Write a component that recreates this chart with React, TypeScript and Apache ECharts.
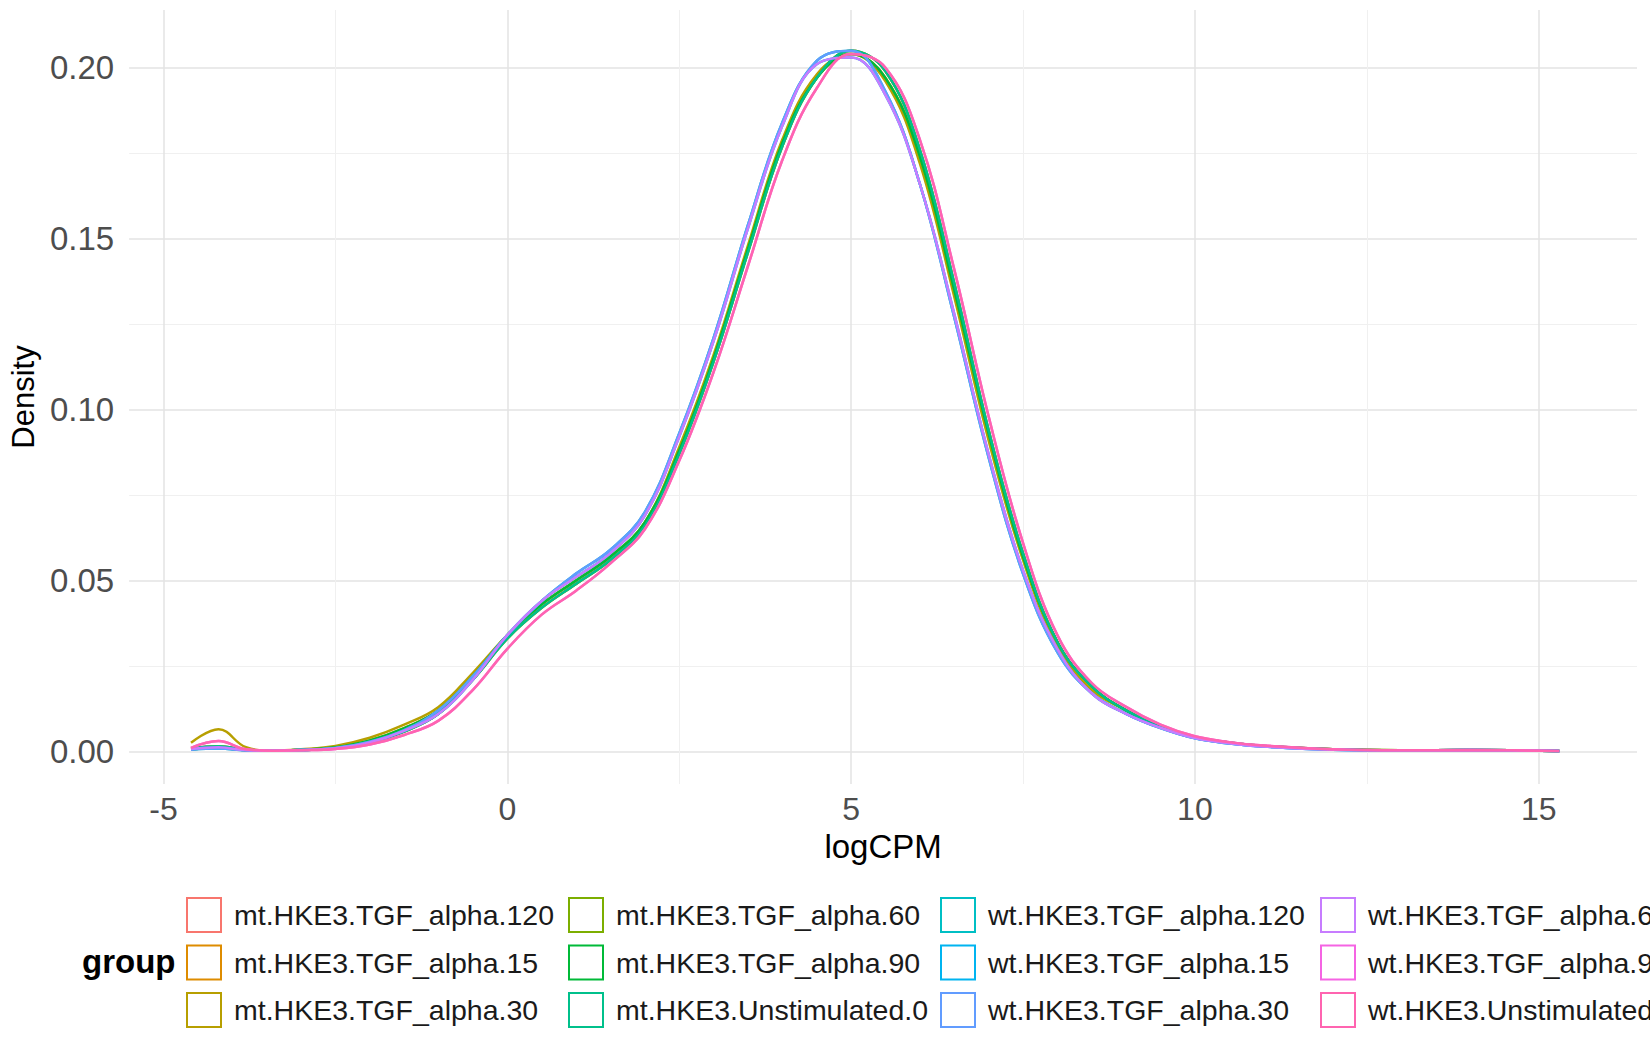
import React, { useEffect, useRef } from 'react';
import * as echarts from 'echarts';

const xs = [-4.6, -4.2, -3.8, -3.4, -3, -2.5, -2, -1.5, -1, -0.5, 0, 0.5, 1, 1.5, 2, 2.5, 3, 3.5, 4, 4.5, 5, 5.5, 6, 6.5, 7, 7.5, 8, 8.5, 9, 9.5, 10, 10.5, 11, 12, 13, 14, 15.3];

const names = [
  'mt.HKE3.TGF_alpha.120', 'mt.HKE3.TGF_alpha.15', 'mt.HKE3.TGF_alpha.30',
  'mt.HKE3.TGF_alpha.60', 'mt.HKE3.TGF_alpha.90', 'mt.HKE3.Unstimulated.0',
  'wt.HKE3.TGF_alpha.120', 'wt.HKE3.TGF_alpha.15', 'wt.HKE3.TGF_alpha.30',
  'wt.HKE3.TGF_alpha.60', 'wt.HKE3.TGF_alpha.90', 'wt.HKE3.Unstimulated.0',
];
const colors = ['#F8766D', '#DE8C00', '#B79F00', '#7CAE00', '#00BA38', '#00C08B', '#00BFC4', '#00B4F0', '#619CFF', '#C77CFF', '#F564E3', '#FF64B0'];

// density curves
const mtA = [0.0008, 0.0015, 0.0004, 0.0002, 0.0004, 0.0009, 0.0025, 0.0058, 0.011, 0.021, 0.033, 0.042, 0.049, 0.056, 0.066, 0.087, 0.114, 0.146, 0.177, 0.197, 0.205, 0.199, 0.176, 0.137, 0.094, 0.058, 0.032, 0.019, 0.012, 0.0075, 0.0042, 0.0026, 0.0016, 0.0006, 0.0003, 0.0004, 0.0001];
const mtB = [0.0006, 0.0010, 0.0003, 0.0002, 0.0005, 0.0012, 0.0032, 0.0068, 0.012, 0.022, 0.034, 0.043, 0.050, 0.057, 0.067, 0.088, 0.115, 0.147, 0.178, 0.197, 0.204, 0.197, 0.174, 0.135, 0.093, 0.057, 0.032, 0.019, 0.012, 0.0074, 0.0041, 0.0025, 0.0015, 0.0006, 0.0003, 0.0004, 0.0001];
const mt30 = [0.0025, 0.0065, 0.0012, 0.0002, 0.0006, 0.0016, 0.0040, 0.0078, 0.013, 0.023, 0.034, 0.043, 0.050, 0.057, 0.067, 0.089, 0.116, 0.148, 0.179, 0.198, 0.204, 0.196, 0.172, 0.133, 0.091, 0.056, 0.031, 0.018, 0.012, 0.0073, 0.0040, 0.0025, 0.0015, 0.0006, 0.0003, 0.0004, 0.0001];
const wtA = [0.0005, 0.0008, 0.0003, 0.0002, 0.0004, 0.0010, 0.0028, 0.0062, 0.012, 0.022, 0.034, 0.044, 0.052, 0.059, 0.070, 0.093, 0.121, 0.154, 0.184, 0.202, 0.205, 0.193, 0.166, 0.127, 0.086, 0.052, 0.029, 0.017, 0.011, 0.0068, 0.0038, 0.0023, 0.0014, 0.0005, 0.0003, 0.0004, 0.0001];
const wtB = [0.0007, 0.0012, 0.0003, 0.0002, 0.0004, 0.0009, 0.0026, 0.0060, 0.011, 0.021, 0.034, 0.044, 0.051, 0.058, 0.069, 0.092, 0.120, 0.153, 0.183, 0.201, 0.203, 0.192, 0.166, 0.128, 0.087, 0.053, 0.030, 0.017, 0.011, 0.0069, 0.0039, 0.0024, 0.0014, 0.0005, 0.0003, 0.0004, 0.0001];
const wtU = [0.0010, 0.0030, 0.0006, 0.0002, 0.0003, 0.0007, 0.0020, 0.0048, 0.009, 0.018, 0.030, 0.040, 0.047, 0.055, 0.065, 0.085, 0.111, 0.142, 0.173, 0.194, 0.204, 0.200, 0.179, 0.141, 0.098, 0.061, 0.034, 0.020, 0.013, 0.0078, 0.0044, 0.0027, 0.0017, 0.0006, 0.0003, 0.0004, 0.0001];
const seriesData = [mtA, mtB, mt30, mtA, mtB, mtA, wtA, wtB, wtA, wtB, wtU, wtU];

const xTicks = [-5, 0, 5, 10, 15];
const xMinor = [-2.5, 2.5, 7.5, 12.5];
const yTicks = [0, 0.05, 0.1, 0.15, 0.2];
const yMinor = [0.025, 0.075, 0.125, 0.175];

const ff = { fontFamily: 'Liberation Sans, Arial, sans-serif' };

export default function App() {
  const ref = useRef<HTMLDivElement>(null);
  useEffect(() => {
    if (!ref.current) return;
    const chart = echarts.init(ref.current, undefined, { renderer: 'svg' });
    const major = { show: true, lineStyle: { color: '#e3e3e3', width: 1.5 } };
    const minor = { show: true, lineStyle: { color: '#f0f0f0', width: 1 } };
    const legends = [0, 1, 2, 3].map((c) => ({
      orient: 'vertical' as const,
      left: [181, 563, 935, 1315][c],
      top: 892,
      icon: 'rect',
      itemWidth: 34,
      itemHeight: 34,
      itemGap: 11.5,
      data: names.slice(c * 3, c * 3 + 3),
      textStyle: { fontSize: 28.5, color: '#1a1a1a', ...ff, padding: [0, 0, 0, 8] },
    }));
    chart.setOption({
      animation: false,
      grid: { left: 121, right: 13, top: 10, bottom: 266 },
      legend: legends,
      graphic: [
        { type: 'text', left: 82, top: 945, style: { text: 'group', font: 'bold 33px Liberation Sans, Arial, sans-serif', fill: '#000' } },
      ],
      xAxis: [
        {
          type: 'value', min: -5.5, max: 16.43,
          name: 'logCPM', nameLocation: 'middle', nameGap: 38,
          nameTextStyle: { fontSize: 33, color: '#000', ...ff },
          axisLine: { show: false },
          axisTick: { show: false, customValues: xTicks },
          axisLabel: { customValues: xTicks, fontSize: 32, color: '#4d4d4d', margin: 9, ...ff },
          splitLine: major,
        },
        {
          type: 'value', min: -5.5, max: 16.43, position: 'bottom',
          axisLine: { show: false }, axisLabel: { show: false },
          axisTick: { show: false, customValues: xMinor },
          splitLine: minor,
        },
      ],
      yAxis: [
        {
          type: 'value', min: -0.00955, max: 0.2169,
          name: 'Density', nameLocation: 'middle', nameGap: 90,
          nameTextStyle: { fontSize: 31, color: '#000', ...ff },
          axisLine: { show: false },
          axisTick: { show: false, customValues: yTicks },
          axisLabel: { customValues: yTicks, formatter: (v: number) => v.toFixed(2), fontSize: 33, color: '#4d4d4d', margin: 15, ...ff },
          splitLine: major,
        },
        {
          type: 'value', min: -0.00955, max: 0.2169,
          axisLine: { show: false }, axisLabel: { show: false },
          axisTick: { show: false, customValues: yMinor },
          splitLine: minor,
        },
      ],
      series: names.map((n, i) => ({
        name: n,
        type: 'line',
        smooth: 0.4,
        showSymbol: false,
        symbol: 'none',
        itemStyle: { color: '#fff', borderColor: colors[i], borderWidth: 2 },
        lineStyle: { width: 2.5, color: colors[i] },
        data: xs.map((x, j) => [x, seriesData[i][j]]),
      })),
    });
    return () => chart.dispose();
  }, []);
  return <div ref={ref} style={{ position: 'fixed', left: 0, top: 0, width: 1650, height: 1050, background: '#fff' }} />;
}
